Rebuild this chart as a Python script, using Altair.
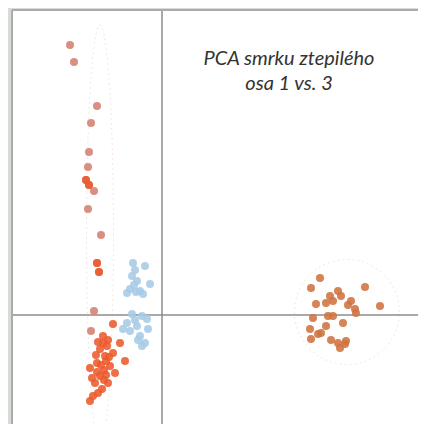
import altair as alt
import pandas as pd
import numpy as np

# PCA scores (axis 1 = x, axis 3 = y)
upper_x = [-1.84, -1.76, -1.30, -1.42, -1.46, -1.48, -1.52, -1.46, -1.36, -1.48, -1.22, -1.30, -1.26, -1.36, -1.42]
upper_y = [5.40, 5.06, 4.18, 3.84, 3.26, 2.96, 2.70, 2.60, 2.48, 2.12, 1.60, 1.04, 0.86, 0.08, -0.32]

red_x = [-0.98, -0.84, -0.74, -1.18, -1.24, -1.14, -1.30, -1.44, -1.04, -1.24, -1.34, -1.20, -1.38, -1.44,
         -0.98, -1.10, -0.94, -1.08, -1.28, -1.16, -1.40, -1.08, -1.28, -1.12, -1.32,
         -1.52, -1.46, -1.26, -1.30, -1.18, -1.22, -1.06, -1.16, -1.30, -1.12]
red_y = [-0.18, -0.56, -0.92, -0.42, -0.68, -0.82, -0.96, -1.06, -1.02, -1.22, -1.36, -1.48, -1.62, -1.72,
         -0.76, -0.62, -1.16, -0.50, -0.54, -1.10, -1.26, -1.36, -1.56, -0.92, -0.80,
         2.70, 2.60, 0.86, 1.04, -0.56, -1.00, -0.84, -1.30, -1.14, -1.20]

blue_x = [-0.58, -0.34, -0.60, -0.50, -0.24, -0.64, -0.44, -0.38, -0.70, -0.54,
          -0.60, -0.40, -0.30, -0.70, -0.50, -0.64, -0.44, -0.34, -0.40, -0.28, -0.78, -0.54, -0.48,
          -0.56, -0.52]
blue_y = [1.04, 0.98, 0.78, 0.68, 0.62, 0.52, 0.48, 0.42, 0.44, 0.90,
          0.02, -0.02, -0.08, -0.16, -0.22, -0.32, -0.42, -0.56, -0.62, -0.28, -0.28, -0.10, -0.50,
          0.60, 0.46]

right_x = [3.16, 2.98, 4.06, 3.52, 3.36, 3.58, 3.42, 3.28, 3.78, 3.08, 3.72, 4.36, 3.86, 3.88,
           3.02, 3.32, 3.62, 3.28, 2.96, 3.18, 2.98, 3.38, 3.52, 3.66, 3.56, 3.68, 3.12, 3.42]
right_y = [0.74, 0.54, 0.56, 0.48, 0.38, 0.38, 0.28, 0.24, 0.28, 0.22, 0.20, 0.18, 0.12, 0.04,
           -0.06, -0.02, -0.16, -0.22, -0.28, -0.36, -0.48, -0.50, -0.56, -0.58, -0.66, -0.52, -0.38, -0.02]

# confidence ellipses: centre x, centre y, radius x, radius y
ell_names = ["left", "right"]
ell_cx = [-1.24, 3.70]
ell_cy = [1.60, 0.06]
ell_rx = [0.27, 1.05]
ell_ry = [4.20, 1.05]

title_lines = ["PCA smrku ztepilého", "osa 1 vs. 3"]

X_DOMAIN = [-3.0, 5.12]
Y_DOMAIN = [-2.18, 6.1]

BG = "#d6ddd6"

groups = [
    ("upper", upper_x, upper_y),
    ("red", red_x, red_y),
    ("blue", blue_x, blue_y),
    ("right", right_x, right_y),
]
rows = []
for g, xs_, ys_ in groups:
    for a, b in zip(xs_, ys_):
        rows.append({"g": g, "x": a, "y": b})
pts = pd.DataFrame(rows)

erows = []
t = np.linspace(0, 2 * np.pi, 121)
for n, cx, cy, rx, ry in zip(ell_names, ell_cx, ell_cy, ell_rx, ell_ry):
    for i, tt in enumerate(t):
        erows.append({"e": n, "i": i, "x": cx + rx * np.cos(tt), "y": cy + ry * np.sin(tt)})
ell = pd.DataFrame(erows)

xs = alt.Scale(domain=X_DOMAIN, nice=False, zero=False)
ys = alt.Scale(domain=Y_DOMAIN, nice=False, zero=False)

ellipses = alt.Chart(ell).mark_line(
    strokeWidth=1, strokeDash=[2, 3], color="#f3d3ca", opacity=0.6, clip=True
).encode(
    x=alt.X("x:Q", scale=xs, axis=None),
    y=alt.Y("y:Q", scale=ys, axis=None),
    detail="e:N",
    order="i:Q",
)

vline = alt.Chart(pd.DataFrame({"x": [0.0]})).mark_rule(color="#8c8c8c", strokeWidth=1.5).encode(
    x=alt.X("x:Q", scale=xs, axis=None)
)
hline = alt.Chart(pd.DataFrame({"y": [0.0]})).mark_rule(color="#8c8c8c", strokeWidth=1.5).encode(
    y=alt.Y("y:Q", scale=ys, axis=None)
)

points = alt.Chart(pts).mark_circle(size=64, opacity=0.88).encode(
    x=alt.X("x:Q", scale=xs, axis=None),
    y=alt.Y("y:Q", scale=ys, axis=None),
    color=alt.Color(
        "g:N",
        scale=alt.Scale(
            domain=["upper", "red", "blue", "right"],
            range=["#d4806f", "#ec5a2c", "#a6cbe6", "#cf7240"],
        ),
        legend=None,
    ),
)

one = pd.DataFrame({"a": [0]})
margin_left = alt.Chart(one).mark_rule(color=BG, strokeWidth=6).encode(
    x=alt.value(-3), y=alt.value(-2), y2=alt.value(414)
)
margin_top = alt.Chart(one).mark_rule(color=BG, strokeWidth=4).encode(
    x=alt.value(-4), x2=alt.value(406), y=alt.value(-2)
)
border_left = alt.Chart(one).mark_rule(color="#a9aca9", strokeWidth=2).encode(
    x=alt.value(0), y=alt.value(0), y2=alt.value(414)
)
border_top = alt.Chart(one).mark_rule(color="#a9aca9", strokeWidth=2).encode(
    x=alt.value(0), x2=alt.value(406), y=alt.value(0)
)

t1 = alt.Chart(pd.DataFrame({"t": [title_lines[0]]})).mark_text(
    font="Lato", fontStyle="italic", fontSize=20, color="#333333", align="center", baseline="alphabetic"
).encode(text="t:N", x=alt.value(277), y=alt.value(55))
t2 = alt.Chart(pd.DataFrame({"t": [title_lines[1]]})).mark_text(
    font="Lato", fontStyle="italic", fontSize=20, color="#333333", align="center", baseline="alphabetic"
).encode(text="t:N", x=alt.value(277), y=alt.value(80))

chart = alt.layer(
    ellipses, vline, hline, points, margin_left, margin_top, border_left, border_top, t1, t2
).properties(
    width=406,
    height=414,
    autosize=alt.AutoSizeParams(type="none"),
    padding={"left": 4, "top": 2, "right": 0, "bottom": 0},
    background="white",
).configure_view(strokeWidth=0, fill="white")

chart.save("out.html", embed_options={"renderer": "svg", "actions": False})
